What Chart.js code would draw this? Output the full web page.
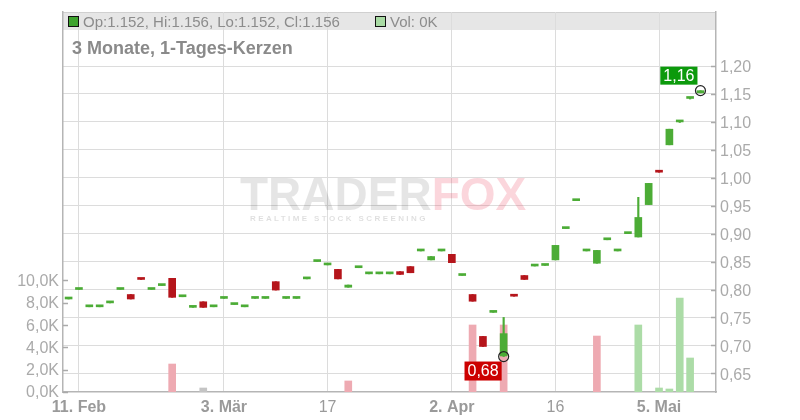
<!DOCTYPE html>
<html>
<head>
<meta charset="utf-8">
<script src="https://cdn.jsdelivr.net/npm/chart.js@4.4.1/dist/chart.umd.min.js"></script>
<style>
  html, body { margin: 0; padding: 0; background: #fff; }
  #wrap { width: 800px; height: 420px; }
</style>
</head>
<body>
<div id="wrap"><canvas id="chart" width="800" height="420"></canvas></div>
<script>
// Handelstage 10.02. - 09.05., Achsenbeschriftung nur an einzelnen Tagen
const tickIndex = [1, 15, 25, 37, 47, 57];
const tickLabels = ["11. Feb", "3. Mär", "17", "2. Apr", "16", "5. Mai"];

const opens = [
  0.783, 0.800, 0.769, 0.769, 0.776, 0.800, 0.791, 0.820, 0.800, 0.807,
  0.820, 0.787, 0.768, 0.778, 0.769, 0.784, 0.773, 0.769, 0.784, 0.784,
  0.814, 0.784, 0.784, 0.819, 0.850, 0.844, 0.836, 0.804, 0.839, 0.828,
  0.828, 0.828, 0.832, 0.841, 0.869, 0.853, 0.869, 0.863, 0.825, 0.791,
  0.716, 0.759, 0.681, 0.791, 0.825, 0.842, 0.843, 0.853, 0.909, 0.959,
  0.869, 0.847, 0.889, 0.869, 0.900, 0.894, 0.952, 1.012, 1.059, 1.100,
  1.142, 1.152
];
const highs = [
  0.783, 0.800, 0.769, 0.769, 0.776, 0.800, 0.791, 0.820, 0.800, 0.807,
  0.820, 0.787, 0.768, 0.778, 0.769, 0.784, 0.773, 0.769, 0.784, 0.784,
  0.814, 0.784, 0.784, 0.819, 0.850, 0.844, 0.836, 0.808, 0.839, 0.828,
  0.828, 0.828, 0.832, 0.841, 0.869, 0.859, 0.869, 0.863, 0.825, 0.791,
  0.716, 0.759, 0.750, 0.791, 0.825, 0.845, 0.843, 0.879, 0.909, 0.959,
  0.872, 0.870, 0.889, 0.869, 0.900, 0.965, 0.990, 1.012, 1.087, 1.102,
  1.144, 1.156
];
const lows = [
  0.783, 0.800, 0.769, 0.769, 0.776, 0.800, 0.783, 0.818, 0.800, 0.807,
  0.786, 0.787, 0.768, 0.768, 0.769, 0.784, 0.773, 0.769, 0.784, 0.784,
  0.799, 0.784, 0.784, 0.819, 0.850, 0.844, 0.819, 0.804, 0.839, 0.828,
  0.828, 0.828, 0.827, 0.830, 0.869, 0.853, 0.869, 0.848, 0.825, 0.779,
  0.698, 0.759, 0.680, 0.788, 0.818, 0.842, 0.843, 0.853, 0.909, 0.959,
  0.869, 0.847, 0.889, 0.869, 0.900, 0.894, 0.952, 1.010, 1.059, 1.099,
  1.141, 1.152
];
const closes = [
  0.783, 0.800, 0.769, 0.769, 0.776, 0.800, 0.783, 0.818, 0.800, 0.807,
  0.786, 0.787, 0.768, 0.768, 0.769, 0.784, 0.773, 0.769, 0.784, 0.784,
  0.799, 0.784, 0.784, 0.819, 0.850, 0.844, 0.819, 0.808, 0.839, 0.828,
  0.828, 0.828, 0.827, 0.830, 0.869, 0.859, 0.869, 0.848, 0.825, 0.779,
  0.698, 0.759, 0.721, 0.788, 0.818, 0.845, 0.843, 0.879, 0.909, 0.959,
  0.872, 0.870, 0.889, 0.869, 0.900, 0.929, 0.990, 1.010, 1.087, 1.100,
  1.142, 1.156
];
const volumes = [
  0, 0, 0, 0, 0, 0, 0, 0, 0, 0,
  2510, 0, 0, 360, 0, 0, 0, 0, 0, 0,
  0, 0, 0, 0, 0, 0, 0, 990, 0, 0,
  0, 0, 0, 0, 0, 0, 0, 0, 0, 6010,
  0, 0, 6010, 0, 0, 0, 0, 0, 0, 0,
  0, 5020, 0, 0, 0, 6010, 0, 360, 270, 8430,
  3050, 0
];
const priceTicks = [0.65, 0.70, 0.75, 0.80, 0.85, 0.90, 0.95, 1.00, 1.05, 1.10, 1.15, 1.20];
const volTicks = [0, 2000, 4000, 6000, 8000, 10000];

const F = '"Liberation Sans", Arial, sans-serif';
const n = opens.length;

const priceMin = 0.6165, priceMax = 1.2968;
const volMax = 34080;

const candleColors = closes.map((c, i) => (c >= opens[i] ? "#4cac36" : "#b5151b"));
const volColors = closes.map((c, i) => {
  if (i === 0 || c === closes[i - 1]) return "#c4c4c4";
  return c > closes[i - 1] ? "#acdca7" : "#eeaab2";
});

const decorPlugin = {
  id: "decor",
  beforeDraw(chart) {
    const ctx = chart.ctx;
    const a = chart.chartArea;
    ctx.save();
    ctx.fillStyle = "#fff";
    ctx.fillRect(0, 0, chart.width, chart.height);
    ctx.fillStyle = "#e6e6e6";
    ctx.fillRect(a.left, a.top, a.right - a.left, 18);
    ctx.strokeStyle = "#d0d0d0";
    ctx.lineWidth = 1;
    ctx.beginPath();
    ctx.moveTo(a.left, a.top + 0.5);
    ctx.lineTo(a.right, a.top + 0.5);
    ctx.stroke();
    ctx.restore();
  },
  beforeDatasetsDraw(chart) {
    // Wasserzeichen
    const ctx = chart.ctx;
    ctx.save();
    ctx.font = "bold 46px " + F;
    ctx.textBaseline = "alphabetic";
    ctx.fillStyle = "rgba(0,0,0,0.10)";
    ctx.fillText("TRADER", 240, 210);
    const w = ctx.measureText("TRADER").width;
    ctx.fillStyle = "rgba(235,70,95,0.22)";
    ctx.fillText("FOX", 240 + w, 210);
    ctx.font = "bold 8px " + F;
    ctx.letterSpacing = "2.4px";
    ctx.fillStyle = "rgba(0,0,0,0.13)";
    ctx.fillText("REALTIME STOCK SCREENING", 250, 221);
    ctx.restore();
  },
  afterDatasetsDraw(chart) {
    const ctx = chart.ctx;
    const xs = chart.scales.x, ys = chart.scales.y, vs = chart.scales.vol;
    ctx.save();

    // kurze Striche an den Achsen
    ctx.strokeStyle = "#aaa";
    ctx.lineWidth = 1.5;
    ys.ticks.forEach(t => {
      const y = Math.round(ys.getPixelForValue(t.value)) + 0.5;
      ctx.beginPath();
      ctx.moveTo(ys.left - 5, y);
      ctx.lineTo(ys.left, y);
      ctx.stroke();
    });
    vs.ticks.forEach(t => {
      const y = Math.round(vs.getPixelForValue(t.value)) + 0.5;
      ctx.beginPath();
      ctx.moveTo(vs.right, y);
      ctx.lineTo(vs.right + 5, y);
      ctx.stroke();
    });

    // Hoch- und Tiefpunkt markieren
    let hi = 0, lo = 0;
    for (let i = 1; i < n; i++) {
      if (highs[i] >= highs[hi]) hi = i;
      if (lows[i] < lows[lo]) lo = i;
    }
    ctx.font = "16px " + F;
    ctx.textBaseline = "middle";
    ctx.textAlign = "center";

    const hx = xs.getPixelForValue(hi), hy = ys.getPixelForValue(highs[hi]);
    const hText = highs[hi].toFixed(2).replace(".", ",");
    const hw = ctx.measureText(hText).width + 6;
    ctx.fillStyle = "#0c9a0c";
    ctx.fillRect(hx - 3 - hw, hy - 6 - 18, hw, 18);
    ctx.fillStyle = "#fff";
    ctx.fillText(hText, hx - 3 - hw / 2, hy - 6 - 9 + 1);
    ctx.strokeStyle = "#222";
    ctx.lineWidth = 1.2;
    ctx.beginPath();
    ctx.arc(hx, hy, 5, 0, Math.PI * 2);
    ctx.stroke();

    const lx = xs.getPixelForValue(lo), ly = ys.getPixelForValue(lows[lo]);
    const lText = lows[lo].toFixed(2).replace(".", ",");
    const lw = ctx.measureText(lText).width + 6;
    ctx.fillStyle = "#cc0000";
    ctx.fillRect(lx - 2 - lw, ly + 5, lw, 19);
    ctx.fillStyle = "#fff";
    ctx.fillText(lText, lx - 2 - lw / 2, ly + 5 + 10);
    ctx.strokeStyle = "#222";
    ctx.beginPath();
    ctx.arc(lx, ly, 5, 0, Math.PI * 2);
    ctx.stroke();

    ctx.restore();
  },
  afterDraw(chart) {
    const ctx = chart.ctx;
    const a = chart.chartArea;
    ctx.save();
    ctx.textBaseline = "alphabetic";
    ctx.textAlign = "left";

    // Kopfzeile mit den letzten Kursen
    ctx.fillStyle = "#3ea32e";
    ctx.fillRect(a.left + 5, a.top + 4, 10, 10);
    ctx.strokeStyle = "#111";
    ctx.lineWidth = 1;
    ctx.strokeRect(a.left + 5.5, a.top + 4.5, 10, 10);
    ctx.font = "15px " + F;
    ctx.fillStyle = "#8c8c8c";
    const last = n - 1;
    ctx.fillText(
      `Op:${opens[last].toFixed(3)}, Hi:${highs[last].toFixed(3)}, Lo:${lows[last].toFixed(3)}, Cl:${closes[last].toFixed(3)}`,
      a.left + 20, a.top + 15
    );
    ctx.fillStyle = "#a9dba4";
    ctx.fillRect(375, a.top + 4, 10, 10);
    ctx.strokeRect(375.5, a.top + 4.5, 10, 10);
    ctx.fillStyle = "#8c8c8c";
    ctx.fillText(`Vol: ${Math.round(volumes[last] / 1000)}K`, 390, a.top + 15);

    ctx.font = "bold 18px " + F;
    ctx.fillStyle = "#8a8a8a";
    ctx.fillText("3 Monate, 1-Tages-Kerzen", a.left + 9, 54);
    ctx.restore();
  }
};

new Chart(document.getElementById("chart"), {
  type: "bar",
  data: {
    datasets: [
      {
        label: "Kerzen",
        data: opens.map((o, i) => ({ x: i, y: [o, closes[i]] })),
        backgroundColor: candleColors,
        barThickness: 7,
        minBarLength: 2,
        grouped: false,
        yAxisID: "y",
        order: 0
      },
      {
        label: "Dochte",
        data: lows.map((l, i) => ({ x: i, y: [l, highs[i]] })),
        backgroundColor: candleColors,
        barThickness: 1.5,
        grouped: false,
        yAxisID: "y",
        order: 1
      },
      {
        label: "Volumen",
        data: volumes.map((v, i) => ({ x: i, y: v > 0 ? v : null })),
        backgroundColor: volColors,
        barThickness: 7,
        grouped: false,
        yAxisID: "vol",
        order: 2
      }
    ]
  },
  options: {
    responsive: false,
    animation: false,
    layout: { padding: { top: 12, left: 0, right: 0, bottom: 0 } },
    plugins: {
      legend: { display: false },
      tooltip: { enabled: false }
    },
    scales: {
      x: {
        type: "linear",
        min: -0.54,
        max: 62.5,
        offset: false,
        afterBuildTicks: s => { s.ticks = tickIndex.map(v => ({ value: v })); },
        afterFit: s => { s.height = 28; s.paddingLeft = 0; s.paddingRight = 0; },
        ticks: {
          autoSkip: false,
          maxRotation: 0,
          padding: 6,
          color: "#9a9a9a",
          callback: (v, i) => tickLabels[i],
          font: ctx => ({ family: F, size: 16, weight: /\D/.test(tickLabels[ctx.index] || "") ? "bold" : "normal" })
        },
        grid: { color: "#dcdcdc", drawTicks: false, tickLength: 0, offset: false },
        border: { color: "#b5b5b5", width: 1.5 }
      },
      y: {
        position: "right",
        min: priceMin,
        max: priceMax,
        afterBuildTicks: s => { s.ticks = priceTicks.map(v => ({ value: v })); },
        afterFit: s => { s.width = 84; s.paddingTop = 0; s.paddingBottom = 0; },
        ticks: {
          padding: 4,
          labelOffset: 2,
          color: "#aaa",
          font: { family: F, size: 16 },
          callback: v => v.toFixed(2).replace(".", ",")
        },
        grid: { color: "#dcdcdc", drawTicks: false, tickLength: 0 },
        border: { color: "#b5b5b5", width: 1.5 }
      },
      vol: {
        position: "left",
        min: 0,
        max: volMax,
        afterBuildTicks: s => { s.ticks = volTicks.map(v => ({ value: v })); },
        afterFit: s => { s.width = 63; s.paddingTop = 0; s.paddingBottom = 0; },
        ticks: {
          padding: 4,
          labelOffset: 1,
          color: "#aaa",
          font: { family: F, size: 16 },
          callback: v => (v / 1000).toFixed(1).replace(".", ",") + "K"
        },
        grid: { display: false, drawTicks: false, tickLength: 0 },
        border: { display: true, color: "#b5b5b5", width: 1.5 }
      }
    }
  },
  plugins: [decorPlugin]
});
</script>
</body>
</html>
